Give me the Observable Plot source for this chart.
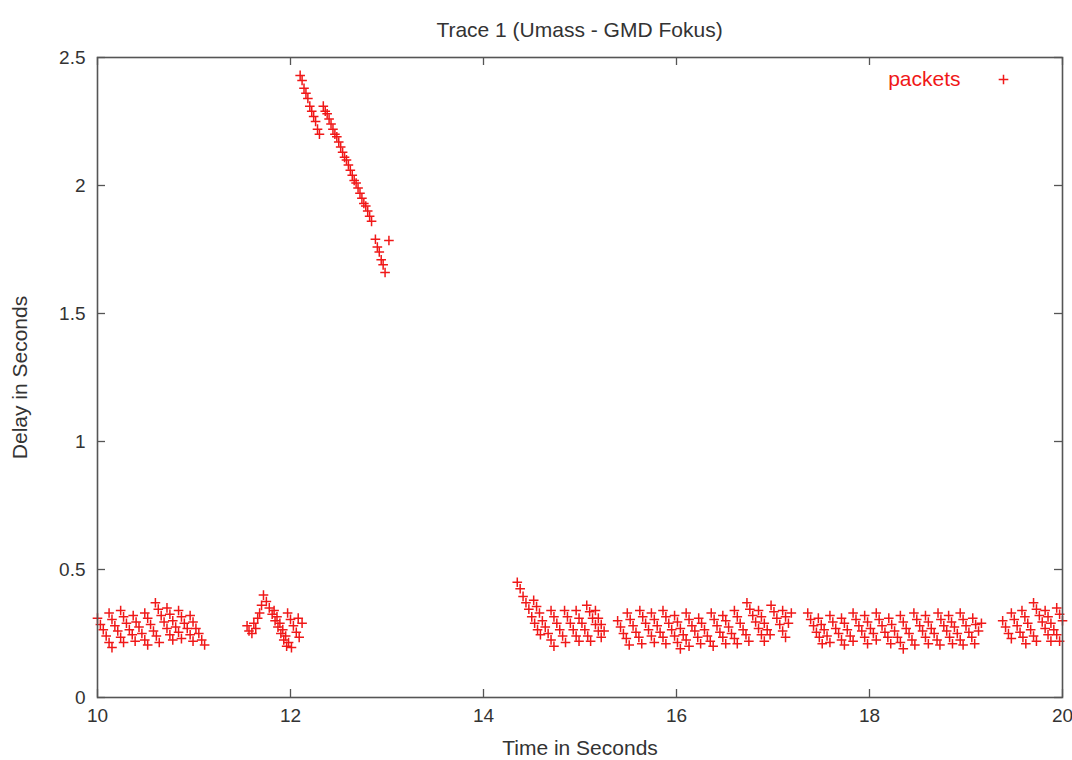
<!DOCTYPE html>
<html><head><meta charset="utf-8">
<script src="https://cdn.jsdelivr.net/npm/d3@7"></script>
<script src="https://cdn.jsdelivr.net/npm/@observablehq/plot@0.6"></script>
<style>
body{margin:0;background:#fff;font-family:"Liberation Sans",Arial,sans-serif;}
#title{box-sizing:border-box;width:1072px;height:44px;padding:19px 10px 0 97px;line-height:22px;font-size:21px;text-align:center;color:#333;}
</style></head><body>
<div id="title">Trace 1 (Umass - GMD Fokus)</div>
<div id="chart"></div>
<script>
// Tick labels
const xTicks = [10, 12, 14, 16, 18, 20];
const yTicks = [0, 0.5, 1, 1.5, 2, 2.5];

// Packet samples [time (s), delay (s)], per burst
const segA = [
  [10.00,.31],[10.03,.285],[10.06,.265],[10.09,.24],[10.12,.215],[10.15,.195],
  [10.12,.33],[10.15,.305],[10.18,.28],[10.21,.26],[10.24,.235],[10.27,.215],
  [10.24,.34],[10.27,.315],[10.30,.29],[10.33,.265],[10.36,.245],[10.39,.22],
  [10.37,.32],[10.40,.295],[10.43,.275],[10.46,.25],[10.49,.225],[10.52,.205],
  [10.49,.33],[10.52,.31],[10.55,.285],[10.58,.26],[10.61,.24],[10.64,.215],
  [10.60,.37],[10.63,.345],[10.66,.32],[10.69,.295],[10.72,.27],[10.75,.245],[10.78,.225],
  [10.72,.35],[10.75,.325],[10.78,.30],[10.81,.275],[10.84,.255],[10.87,.23],
  [10.84,.34],[10.87,.315],[10.90,.29],[10.93,.27],[10.96,.245],[10.99,.22],
  [10.96,.32],[10.99,.295],[11.02,.27],[11.05,.25],[11.08,.225],[11.11,.205]
];
const segB = [
  [11.55,.28],[11.57,.26],[11.60,.25],[11.62,.29],[11.64,.27],[11.66,.31],[11.68,.33],[11.70,.36],[11.72,.40],
  [11.75,.375],[11.78,.35],[11.81,.325],[11.84,.30],[11.87,.275],[11.90,.25],[11.93,.225],[11.96,.20],
  [11.83,.34],[11.86,.315],[11.89,.29],[11.92,.265],[11.95,.24],[11.98,.215],[12.01,.195],
  [11.97,.33],[12.00,.305],[12.03,.28],[12.06,.255],[12.09,.235],
  [12.08,.31],[12.12,.29]
];
const segC = [
  [12.10,2.43],[12.12,2.41],[12.14,2.38],[12.16,2.36],[12.18,2.34],[12.20,2.31],[12.22,2.29],[12.24,2.27],[12.26,2.25],[12.28,2.22],[12.30,2.20],
  [12.34,2.31],[12.36,2.29],[12.38,2.28],[12.40,2.26],[12.42,2.24],[12.44,2.22],[12.46,2.20],[12.48,2.19],[12.50,2.17],[12.52,2.15],
  [12.54,2.13],[12.56,2.11],[12.58,2.10],[12.60,2.08],[12.62,2.06],[12.64,2.04],[12.66,2.02],[12.68,2.01],[12.70,1.99],[12.72,1.97],
  [12.74,1.95],[12.76,1.93],[12.78,1.92],[12.80,1.90],[12.82,1.88],[12.84,1.86],
  [12.88,1.79],[12.90,1.76],[12.92,1.74],[12.94,1.71],[12.96,1.69],[12.98,1.66],[13.02,1.785]
];
const segD = [
  [14.35,.45],[14.38,.425],[14.41,.395],[14.44,.37],[14.47,.345],[14.50,.315],[14.53,.29],[14.56,.265],[14.59,.245],
  [14.52,.38],[14.55,.355],[14.58,.33],[14.61,.30],[14.64,.275],[14.67,.25],[14.70,.225],[14.73,.20],
  [14.70,.34],[14.73,.315],[14.76,.29],[14.79,.265],[14.82,.24],[14.85,.215],
  [14.84,.34],[14.87,.315],[14.90,.29],[14.93,.265],[14.96,.24],[14.99,.22],
  [14.96,.34],[14.99,.31],[15.02,.29],[15.05,.265],[15.08,.24],[15.11,.22],
  [15.07,.36],[15.10,.335],[15.13,.31],[15.16,.285],[15.19,.26],[15.22,.235],
  [15.16,.34],[15.19,.31],[15.22,.285],[15.25,.26]
];
const segE = [
  [15.39,.30],[15.42,.275],[15.45,.25],[15.48,.23],[15.51,.205],
  [15.49,.33],[15.52,.305],[15.55,.28],[15.58,.255],[15.61,.235],[15.64,.21],
  [15.62,.34],[15.65,.315],[15.68,.29],[15.71,.265],[15.74,.24],[15.77,.215],
  [15.74,.33],[15.77,.305],[15.80,.28],[15.83,.255],[15.86,.235],[15.89,.21],
  [15.86,.34],[15.89,.315],[15.92,.29],[15.95,.265],[15.98,.24],[16.01,.215],[16.04,.19],
  [15.98,.32],[16.01,.295],[16.04,.27],[16.07,.245],[16.10,.225],[16.13,.20],
  [16.10,.33],[16.13,.305],[16.16,.28],[16.19,.26],[16.22,.235],[16.25,.21],
  [16.23,.31],[16.26,.29],[16.29,.265],[16.32,.24],[16.35,.22],[16.38,.20],
  [16.36,.33],[16.39,.305],[16.42,.28],[16.45,.255],[16.48,.235],[16.51,.21],
  [16.48,.32],[16.51,.30],[16.54,.275],[16.57,.25],[16.60,.23],[16.63,.21],
  [16.60,.34],[16.63,.315],[16.66,.29],[16.69,.265],[16.72,.245],[16.75,.22],
  [16.73,.37],[16.76,.345],[16.79,.32],[16.82,.295],[16.85,.27],[16.88,.245],[16.91,.22],
  [16.85,.34],[16.88,.315],[16.91,.29],[16.94,.265],[16.97,.245],
  [16.98,.36],[17.01,.335],[17.04,.31],[17.07,.285],[17.10,.26],[17.13,.235],
  [17.10,.34],[17.13,.315],[17.16,.29],[17.19,.33]
];
const segF = [
  [17.36,.33],[17.39,.305],[17.42,.28],[17.45,.255],[17.48,.235],[17.51,.21],
  [17.47,.31],[17.50,.285],[17.53,.265],[17.56,.24],[17.59,.215],
  [17.59,.32],[17.62,.295],[17.65,.27],[17.68,.25],[17.71,.225],[17.74,.205],
  [17.71,.31],[17.74,.29],[17.77,.265],[17.80,.24],[17.83,.22],
  [17.83,.33],[17.86,.305],[17.89,.28],[17.92,.26],[17.95,.235],[17.98,.21],
  [17.95,.32],[17.98,.295],[18.01,.27],[18.04,.25],[18.07,.225],
  [18.07,.33],[18.10,.305],[18.13,.28],[18.16,.255],[18.19,.235],[18.22,.21],
  [18.20,.31],[18.23,.285],[18.26,.26],[18.29,.235],[18.32,.215],[18.35,.19],
  [18.32,.32],[18.35,.295],[18.38,.27],[18.41,.25],[18.44,.225],[18.47,.205],
  [18.46,.33],[18.49,.305],[18.52,.28],[18.55,.26],[18.58,.235],[18.61,.21],
  [18.58,.32],[18.61,.295],[18.64,.27],[18.67,.25],[18.70,.225],[18.73,.205],
  [18.71,.33],[18.74,.305],[18.77,.28],[18.80,.26],[18.83,.235],[18.86,.21],
  [18.82,.32],[18.85,.295],[18.88,.275],[18.91,.25],[18.94,.225],[18.97,.205],
  [18.94,.33],[18.97,.305],[19.00,.28],[19.03,.255],[19.06,.235],[19.09,.21],
  [19.07,.31],[19.10,.285],[19.13,.26],[19.16,.29]
];
const segG = [
  [19.38,.30],[19.41,.275],[19.44,.25],[19.47,.23],
  [19.47,.33],[19.50,.305],[19.53,.28],[19.56,.255],[19.59,.235],[19.62,.21],
  [19.58,.34],[19.61,.315],[19.64,.29],[19.67,.265],[19.70,.24],[19.73,.22],
  [19.70,.37],[19.73,.345],[19.76,.32],[19.79,.295],[19.82,.27],[19.85,.245],[19.88,.22],
  [19.82,.34],[19.85,.315],[19.88,.29],[19.91,.265],[19.94,.245],[19.97,.22],
  [19.94,.35],[19.97,.325],[20.00,.30]
];

const seriesName = "packets";
const packets = [segA, segB, segC, segD, segE, segF, segG].flat().map(([t, d]) => ({time: t, delay: d}));

const RED = "#f01818";
const AXIS = "#555";
const FONT = '"Liberation Sans", Arial, sans-serif';

const chart = Plot.plot({
  width: 1072,
  height: 716,
  marginTop: 13,
  marginBottom: 63,
  marginLeft: 97,
  marginRight: 10,
  style: {fontFamily: FONT, fontSize: "19px", color: "#333", background: "#fff", overflow: "visible"},
  x: {domain: [10, 20]},
  y: {domain: [0, 2.5]},
  marks: [
    Plot.dot(packets, {x: "time", y: "delay", symbol: "plus", r: 3.2, stroke: RED, strokeWidth: 1.5}),
    // inward ticks on all four sides
    Plot.tickX(xTicks, {x: d => d, insetTop: 632, stroke: AXIS, strokeWidth: 1.3}),
    Plot.tickX(xTicks, {x: d => d, insetBottom: 632, stroke: AXIS, strokeWidth: 1.3}),
    Plot.tickY(yTicks, {y: d => d, insetRight: 957, stroke: AXIS, strokeWidth: 1.3}),
    Plot.tickY(yTicks, {y: d => d, insetLeft: 957, stroke: AXIS, strokeWidth: 1.3}),
    Plot.frame({stroke: AXIS, strokeWidth: 1.6}),
    Plot.axisX({anchor: "bottom", ticks: xTicks, tickSize: 0, tickPadding: 11, tickFormat: d => String(d), label: null, fontSize: 19, fill: "#333"}),
    Plot.axisY({anchor: "left", ticks: yTicks, tickSize: 0, tickPadding: 12, tickFormat: d => String(d), label: null, fontSize: 19, fill: "#333"}),
    Plot.text(["Time in Seconds"], {frameAnchor: "bottom", dy: 51, text: d => d, fontSize: 21, fill: "#333", lineAnchor: "middle"}),
    Plot.text(["Delay in Seconds"], {frameAnchor: "left", dx: -77, rotate: -90, textAnchor: "middle", lineAnchor: "middle", text: d => d, fontSize: 21, fill: "#333"}),
    // legend
    Plot.text([seriesName], {frameAnchor: "top-right", dx: -102, dy: 22, textAnchor: "end", lineAnchor: "middle", text: d => d, fontSize: 21, fill: RED}),
    Plot.dot([seriesName], {frameAnchor: "top-right", dx: -59, dy: 22, symbol: "plus", r: 3.2, stroke: RED, strokeWidth: 1.5})
  ]
});
document.getElementById("chart").appendChild(chart);
</script>
</body></html>
